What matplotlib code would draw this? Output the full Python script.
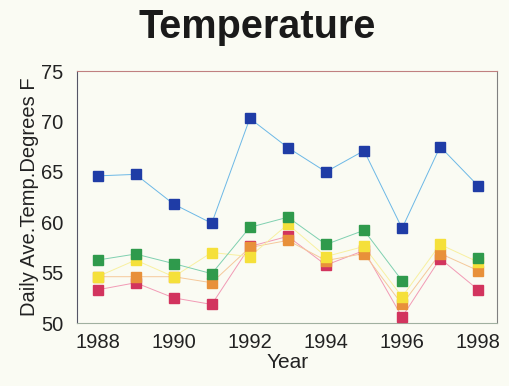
import numpy as np
import matplotlib
matplotlib.use("Agg")
import matplotlib.pyplot as plt

plt.rcParams['font.family'] = ['Liberation Sans', 'DejaVu Sans']

years = [1988, 1989, 1990, 1991, 1992, 1993, 1994, 1995, 1996, 1997, 1998]
blue = [64.6, 64.75, 61.8, 59.9, 70.3, 67.4, 65.0, 67.1, 59.4, 67.5, 63.6]
green = [56.25, 56.85, 55.9, 54.9, 59.5, 60.5, 57.8, 59.2, 54.2, np.nan, 56.5]
yellow = [54.6, 56.25, 54.6, 57.0, 56.6, 59.8, 56.6, 57.6, 52.6, 57.8, 56.05]
orange = [54.6, 54.6, 54.6, 54.0, 57.5, 58.2, 56.2, 56.9, 51.85, 56.9, 55.2]
red = [53.3, 54.0, 52.5, 51.85, 57.6, 58.6, 55.75, 57.2, 50.6, 56.4, 53.3]

series = [
    (red, '#D2345E', '#F29AB5'),
    (orange, '#E8903A', '#F5C89A'),
    (yellow, '#F5E03A', '#F8F0A0'),
    (green, '#2F9A4C', '#7FD0B0'),
    (blue, '#1F3CA6', '#6CB8E6'),
]

bg = '#FAFBF3'
fig = plt.figure(figsize=(5.1, 3.86), dpi=100, facecolor=bg)
ax = fig.add_axes([0.151, 0.163, 0.824, 0.653], facecolor=bg)

for vals, mc, lc in series:
    ax.plot(years, vals, color=lc, lw=0.7, zorder=2)
    ax.plot(years, vals, ls='none', marker='s', ms=6.5, mfc=mc, mec=mc, zorder=3)

ax.set_xlim(1987.46, 1998.5)
ax.set_ylim(50, 75)
ax.set_xticks([1988, 1990, 1992, 1994, 1996, 1998])
ax.set_yticks([50, 55, 60, 65, 70, 75])
ax.tick_params(length=0, labelsize=14.5, colors='#222222')
ax.tick_params(axis='x', pad=7)
ax.tick_params(axis='y', pad=10)
for s in ax.spines.values():
    s.set_linewidth(0.8)
ax.spines['left'].set_color('#555566')
ax.spines['bottom'].set_color('#A0B0A0')
ax.spines['top'].set_color('#C08080')
ax.spines['right'].set_color('#808080')

ax.set_xlabel('Year', fontsize=15, color='#222222', labelpad=1)
ax.set_ylabel('Daily Ave.Temp.Degrees F', fontsize=14.5, color='#222222', labelpad=1)
fig.text(0.505, 0.93, 'Temperature', ha='center', va='center', fontsize=28.5,
         fontweight='bold', color='#1a1a1a')

fig.savefig('out.png', dpi=100, facecolor=bg)
